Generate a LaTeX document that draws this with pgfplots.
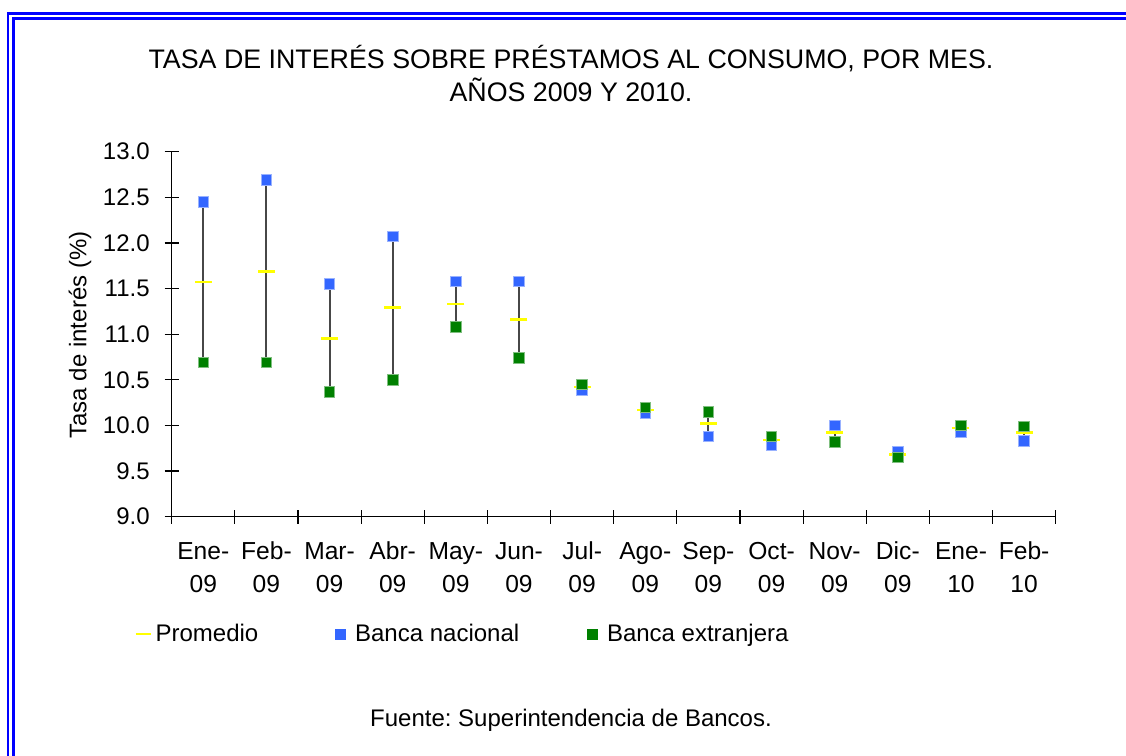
\documentclass[border=0pt]{standalone}
\usepackage{pgfplots}
\usepackage{pgfplotstable}
\pgfplotsset{compat=1.18}
\usepackage{fontspec}
\setmainfont{Liberation Sans}
\definecolor{bnac}{RGB}{51,102,255}
\definecolor{bext}{RGB}{0,128,0}
\definecolor{prom}{RGB}{255,255,0}
\definecolor{frame}{RGB}{0,0,255}
\newcommand{\tl}[2]{\strut #1\\\strut #2}

\pgfplotstableread{
x prom nac ext
0 11.57 12.45 10.69
1 11.69 12.69 10.69
2 10.95 11.55 10.37
3 11.29 12.07 10.50
4 11.33 11.58 11.08
5 11.16 11.58 10.74
6 10.42 10.39 10.45
7 10.17 10.14 10.20
8 10.02 9.88 10.15
9 9.84 9.78 9.88
10 9.92 10.00 9.82
11 9.68 9.71 9.65
12 9.97 9.93 10.00
13 9.92 9.83 9.99
}\data

\begin{document}
\frenchspacing
\begin{tikzpicture}[x=1pt,y=1pt]
\useasboundingbox (0,0) rectangle (563,378);
\draw[frame, line width=1.25pt] (4,0) -- (4,371.3) -- (563,371.3);
\draw[frame, line width=1.25pt] (6.65,0) -- (6.65,368.8) -- (563,368.8);

\node[align=center, font=\fontsize{13.4}{16.5}\selectfont] at (285.5,341) {TASA DE INTERÉS SOBRE PRÉSTAMOS AL CONSUMO, POR MES.\\AÑOS 2009 Y 2010.};
\node[rotate=90, font=\fontsize{12}{14}\selectfont] at (40,210.5) {Tasa de interés (\%)};
\node[font=\fontsize{12}{14}\selectfont] at (285.5,18) {Fuente: Superintendencia de Bancos.};

\begin{axis}[
  at={(85.85pt,119.65pt)}, anchor=south west,
  scale only axis, width=442pt, height=182.5pt,
  xmin=-0.5, xmax=13.5, ymin=9, ymax=13,
  axis x line=bottom, axis y line=left,
  axis line style={-, line width=0.6pt, black},
  every tick/.style={black, line width=0.6pt},
  tick align=center,
  ytick={9,9.5,...,13},
  major tick length=7pt,
  xtick={0,...,13},
  xticklabels={{\tl{Ene-}{09}},{\tl{Feb-}{09}},{\tl{Mar-}{09}},{\tl{Abr-}{09}},{\tl{May-}{09}},{\tl{Jun-}{09}},{\tl{Jul-}{09}},{\tl{Ago-}{09}},{\tl{Sep-}{09}},{\tl{Oct-}{09}},{\tl{Nov-}{09}},{\tl{Dic-}{09}},{\tl{Ene-}{10}},{\tl{Feb-}{10}}},
  major x tick style={draw=none},
  minor xtick={-0.5,0.5,...,13.5},
  minor tick length=7pt,
  xticklabel style={align=center, anchor=north, font=\fontsize{12.3}{16.5}\selectfont, yshift=-2.8pt},
  yticklabel style={font=\fontsize{12}{14}\selectfont, xshift=-4pt},
  /pgf/number format/assume math mode=true,
  /pgf/number format/.cd, fixed, fixed zerofill, precision=1, /pgfplots/.cd,
  legend style={at={(-0.0492,-0.322)}, anchor=west, draw=none, fill=none,
    font=\fontsize{12}{14}\selectfont,
    /tikz/every even column/.append style={column sep=32pt}},
  legend columns=3,
  clip=false,
]
\addplot[draw=none, forget plot, error bars/.cd, y dir=minus, y explicit,
  error mark=none, error bar style={black!72, line width=0.95pt}]
  table[x=x, y=nac, y error minus expr=\thisrow{nac}-\thisrow{ext}] {\data};
\addplot[only marks, mark=-, mark size=4.25pt, mark options={prom, line width=1.3pt},
  legend image code/.code={\draw[prom, line width=1pt] (0pt,0pt) -- (7.5pt,0pt);}]
  table[x=x, y=prom] {\data};
\addplot[only marks, mark=square*, mark size=2.65pt, mark options={bnac, fill=bnac, draw=bnac!50, line width=0.4pt},
  legend image code/.code={\fill[bnac] (0pt,-2.5pt) rectangle (5pt,2.5pt); \path (-4.5pt,0pt) (7.5pt,0pt);}]
  table[x=x, y=nac] {\data};
\addplot[only marks, mark=square*, mark size=2.65pt, mark options={bext, fill=bext, draw=bext!50, line width=0.4pt},
  legend image code/.code={\fill[bext] (0pt,-2.5pt) rectangle (5pt,2.5pt); \path (7.5pt,0pt);}]
  table[x=x, y=ext] {\data};
\legend{Promedio, Banca nacional, Banca extranjera}
\end{axis}
\end{tikzpicture}
\end{document}
